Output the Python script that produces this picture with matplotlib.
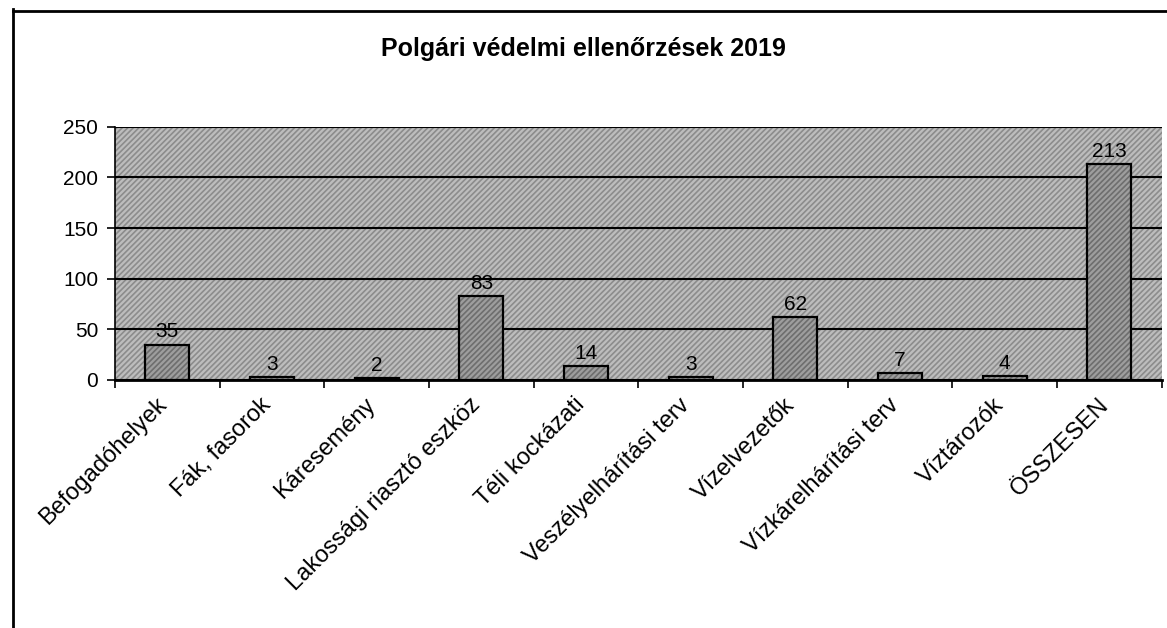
import matplotlib
matplotlib.use('Agg')
import matplotlib.pyplot as plt
from matplotlib.patches import Rectangle
from matplotlib.lines import Line2D
from matplotlib.transforms import ScaledTranslation

# Chart data
categories = ['Befogadóhelyek', 'Fák, fasorok', 'Káresemény',
              'Lakossági riasztó eszköz', 'Téli kockázati', 'Veszélyelhárítási terv',
              'Vízelvezetők', 'Vízkárelhárítási terv', 'Víztározók', 'ÖSSZESEN']
values = [35, 3, 2, 83, 14, 3, 62, 7, 4, 213]
y_ticks = [0, 50, 100, 150, 200, 250]

plt.rcParams['font.family'] = ['Liberation Sans', 'DejaVu Sans']
plt.rcParams['hatch.linewidth'] = 1.2

fig = plt.figure(figsize=(11.67, 6.28), dpi=100)
ax = fig.add_axes([0.0985, 0.395, 0.897, 0.403])

# dithered grey plot area
ax.set_facecolor('#bdbdbd')
ax.add_patch(Rectangle((0, 0), 1, 1, transform=ax.transAxes, facecolor='none',
                       edgecolor='#8c8c8c', hatch='//////', linewidth=0, zorder=0))

x = list(range(len(categories)))
ax.bar(x, values, width=0.42, color='#9e9e9e', hatch='//////', edgecolor='#6e6e6e',
       linewidth=0, zorder=3)
ax.bar(x, values, width=0.42, color='none', edgecolor='black', linewidth=1.6, zorder=4)

for xi, v in zip(x, values):
    ax.text(xi, v + 3, str(v), ha='center', va='bottom', fontsize=15, zorder=5)

ax.set_xlim(-0.5, len(categories) - 0.5)
ax.set_ylim(0, 250)
ax.set_yticks(y_ticks)
ax.set_yticklabels([str(t) for t in y_ticks], fontsize=15)
ax.set_xticks([i - 0.5 for i in range(len(categories) + 1)], minor=False)
ax.set_xticklabels([])
ax.set_xticks(x, minor=True)
ax.set_xticklabels(categories, minor=True, rotation=45, ha='right',
                   rotation_mode='anchor', fontsize=17)
ax.tick_params(axis='x', which='minor', length=0, pad=10)
ax.tick_params(axis='x', which='major', length=6, width=1.2, direction='out')
ax.tick_params(axis='y', length=6, width=1.2, direction='out', pad=6)

shift = ScaledTranslation(-0.12, 0, fig.dpi_scale_trans)
for lbl in ax.get_xticklabels(minor=True):
    lbl.set_transform(lbl.get_transform() + shift)

ax.yaxis.grid(True, color='black', linewidth=1.5, zorder=1)
ax.set_axisbelow(True)
for s in ['top', 'right']:
    ax.spines[s].set_visible(False)
ax.spines['left'].set_linewidth(1.2)
ax.spines['bottom'].set_linewidth(2)

fig.text(0.5, 0.922, 'Polgári védelmi ellenőrzések 2019', ha='center', va='center',
         fontsize=18, fontweight='bold')

# scanned frame lines
fig.add_artist(Line2D([0.011, 0.011], [0.0, 0.985], color='black', linewidth=2))
fig.add_artist(Line2D([0.011, 1.0], [0.983, 0.983], color='black', linewidth=2))

fig.savefig('out.png', dpi=100, facecolor='white')
